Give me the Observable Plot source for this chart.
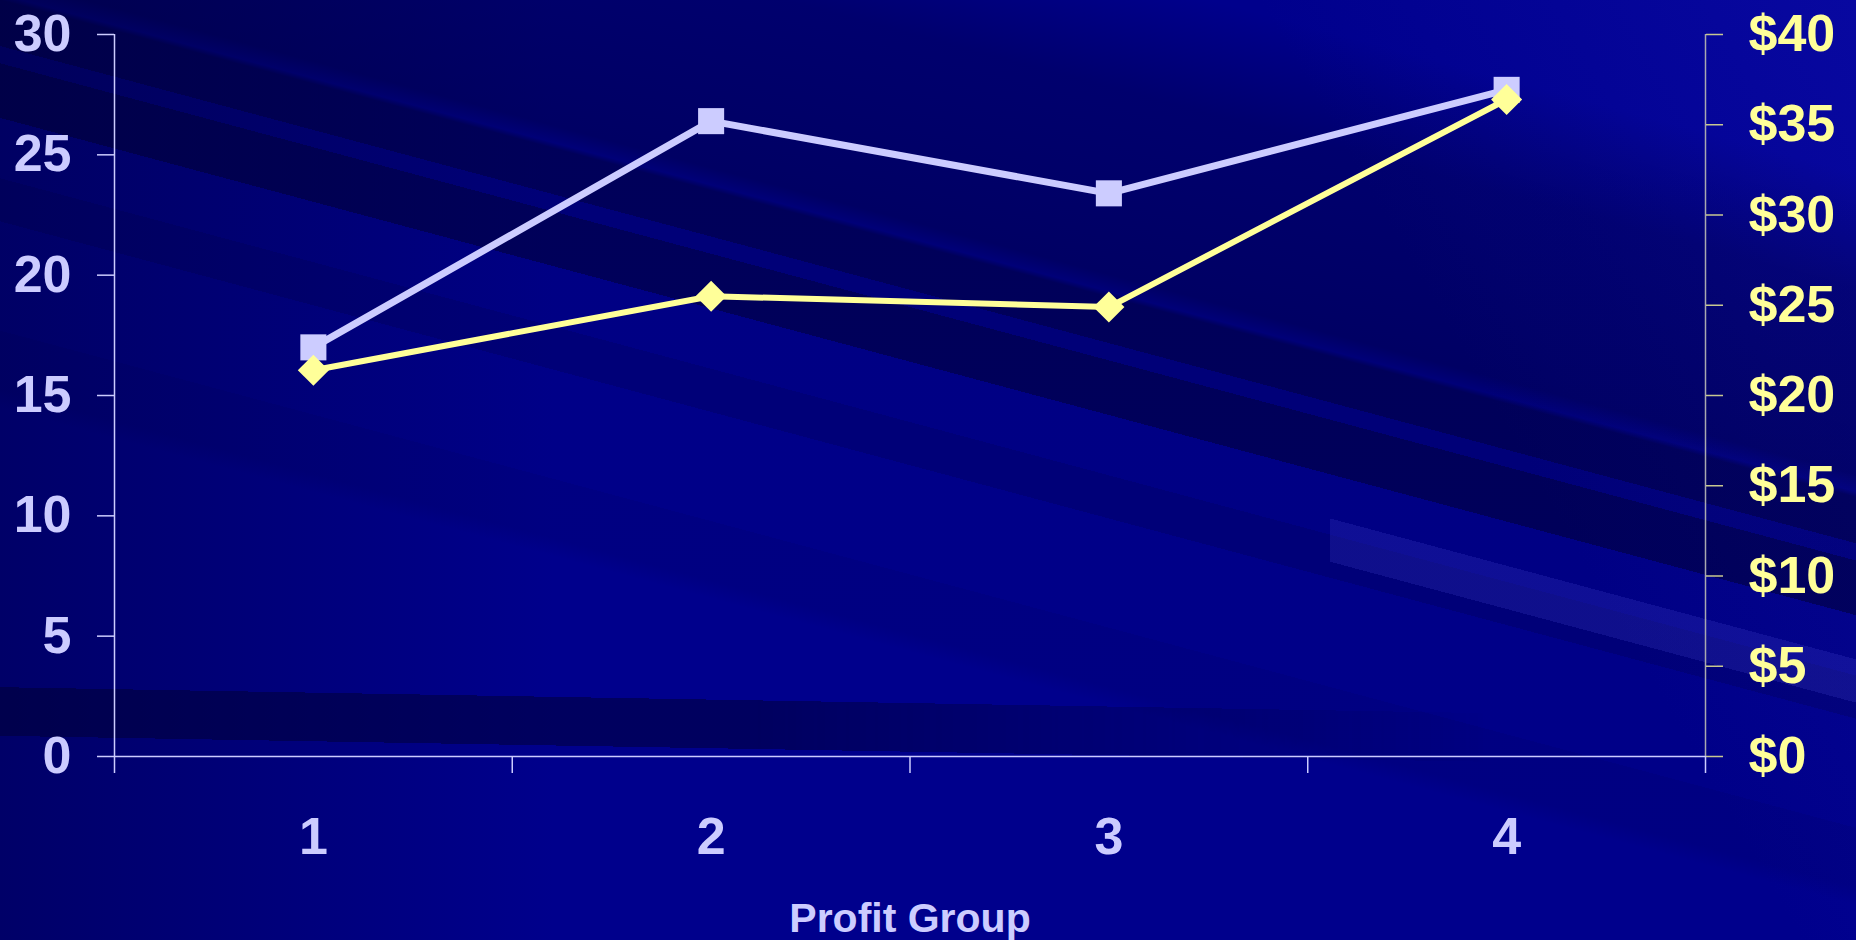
<!DOCTYPE html>
<html>
<head>
<meta charset="utf-8">
<script src="https://cdn.jsdelivr.net/npm/d3@7"></script>
<script src="https://cdn.jsdelivr.net/npm/@observablehq/plot@0.6"></script>
<style>
  html, body { margin: 0; padding: 0; width: 1856px; height: 940px; overflow: hidden; }
  body {
    position: relative;
    background-color: #00008c;
    background-image:
      linear-gradient(195deg, rgba(70,70,210,0) 0%, rgba(70,70,210,0) 61%, rgba(70,70,210,0.22) 61%, rgba(70,70,210,0.22) 65%, rgba(70,70,210,0) 65%),
      linear-gradient(195deg,
        rgba(0,0,40,0) 0%, rgba(0,0,40,0) 12%,
        rgba(0,0,40,0.3) 20%, rgba(0,0,40,0.4) 33%,
        rgba(0,0,40,0.2) 34.2%,
        rgba(0,0,40,0.5) 34.6%, rgba(0,0,40,0.5) 37.8%,
        rgba(0,0,40,0.2) 37.8%, rgba(0,0,40,0.2) 39%,
        rgba(0,0,40,0.5) 39%, rgba(0,0,40,0.5) 42.8%,
        rgba(0,0,40,0.08) 42.8%, rgba(0,0,40,0.08) 47%,
        rgba(0,0,40,0.2) 47%, rgba(0,0,40,0.2) 50%,
        rgba(0,0,40,0.04) 50%, rgba(0,0,40,0.04) 57.6%,
        rgba(0,0,40,0.1) 57.6%, rgba(0,0,40,0.1) 61.7%,
        rgba(0,0,40,0) 63%),
      linear-gradient(240deg, rgba(20,20,190,0.4) 0%, rgba(20,20,190,0) 25%),
      linear-gradient(90deg, rgba(0,0,50,0.4) 0%, rgba(0,0,50,0) 30%);
    background-repeat: no-repeat, no-repeat, no-repeat, no-repeat;
    background-size: 526px 940px, 100% 100%, 100% 100%, 100% 100%;
    background-position: 1330px 0, 0 0, 0 0, 0 0;
  }
  .band {
    position: absolute; left: 0; top: 0; width: 1856px; height: 940px;
    background: linear-gradient(181deg, rgba(0,0,50,0) 0%, rgba(0,0,50,0) 74%, rgba(0,0,50,0.5) 74%, rgba(0,0,50,0.5) 79%, rgba(0,0,50,0) 79%);
    -webkit-mask-image: linear-gradient(90deg, #000 0%, #000 40%, transparent 80%);
    mask-image: linear-gradient(90deg, #000 0%, #000 40%, transparent 80%);
  }
  svg { display: block; position: relative; }
</style>
</head>
<body>
<div class="band"></div>
<script>
// Data
const groups = [1, 2, 3, 4];
const counts = [17.0, 26.4, 23.4, 27.7];      // left axis (lavender squares)
const dollars = [21.4, 25.5, 24.9, 36.4];     // right axis (yellow diamonds)
const leftTicks = [0, 5, 10, 15, 20, 25, 30];
const rightTicks = [0, 5, 10, 15, 20, 25, 30, 35, 40];
const xTitle = "Profit Group";

const leftMax = 30, rightMax = 40;
const toLeft = d => d * leftMax / rightMax;

const lavender = "#CCCCFF";
const yellow = "#FFFF99";
const font = "'Liberation Sans', Arial, sans-serif";

const xDomain = [groups[0] - 0.5, groups[groups.length - 1] + 0.5];
const boundaries = [...groups.map(g => g - 0.5), groups[groups.length - 1] + 0.5];

const countData = groups.map((g, i) => ({g, v: counts[i]}));
const dollarData = groups.map((g, i) => ({g, v: dollars[i]}));

const chart = Plot.plot({
  width: 1856,
  height: 940,
  marginLeft: 114,
  marginRight: 151,
  marginTop: 34,
  marginBottom: 184,
  style: {background: "transparent", fontFamily: font, overflow: "visible"},
  x: {type: "linear", domain: xDomain},
  y: {domain: [0, leftMax]},
  marks: [
    // left axis
    Plot.ruleX([xDomain[0]], {stroke: lavender, strokeWidth: 1.5, y1: 0, y2: leftMax}),
    Plot.axisY(leftTicks, {anchor: "left", tickSize: 17, tickPadding: 26, fontSize: 52, fontWeight: "bold", color: lavender, strokeWidth: 1.5, label: null}),
    // right axis
    Plot.ruleX([xDomain[1]], {stroke: "#A8A8B0", strokeWidth: 1.5, y1: 0, y2: leftMax}),
    Plot.axisY(rightTicks, {anchor: "right", y: toLeft, tickSize: 17, tickPadding: 26, fontSize: 52, fontWeight: "bold", fill: yellow, stroke: "#C8C890", strokeWidth: 1.5, tickFormat: d => "$" + d, label: null}),
    // bottom axis
    Plot.ruleY([0], {stroke: lavender, strokeWidth: 1.5}),
    Plot.axisX(boundaries, {tickSize: 17, stroke: lavender, strokeWidth: 1.5, tickFormat: () => "", label: null}),
    Plot.axisX(groups, {tickSize: 0, tickPadding: 61, fontSize: 52, fontWeight: "bold", fill: lavender, tickFormat: d => String(d), label: null}),
    Plot.text([xTitle], {frameAnchor: "bottom", dy: 162, lineAnchor: "middle", fontSize: 41, fontWeight: "bold", fill: lavender, text: d => d}),
    // series 1: lavender squares
    Plot.line(countData, {x: "g", y: "v", stroke: lavender, strokeWidth: 7}),
    Plot.dot(countData, {x: "g", y: "v", symbol: "square", r: 14.7, fill: lavender, stroke: null}),
    // series 2: yellow diamonds (right axis)
    Plot.line(dollarData, {x: "g", y: d => toLeft(d.v), stroke: yellow, strokeWidth: 6}),
    Plot.dot(dollarData, {x: "g", y: d => toLeft(d.v), symbol: "diamond2", r: 14, fill: yellow, stroke: null})
  ]
});
document.body.appendChild(chart);
</script>
</body>
</html>
